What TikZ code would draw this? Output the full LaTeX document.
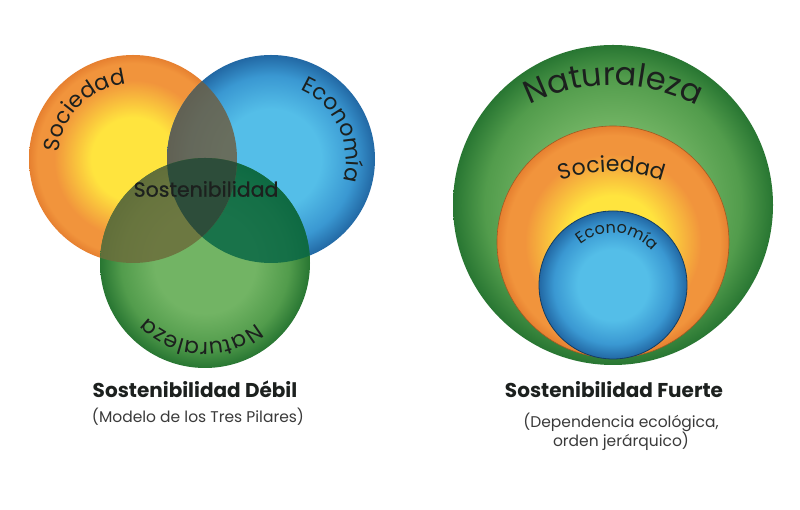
\documentclass[tikz,border=0pt]{standalone}
\usepackage{fontspec}
\usepackage{tikz}
\usetikzlibrary{decorations.text}
\setmainfont{Poppins}
\newfontfamily\semifont{Poppins}[FakeBold=0.7]

\definecolor{socin}{RGB}{255,228,62}
\definecolor{socout}{RGB}{241,148,60}
\definecolor{socrim}{RGB}{230,128,48}
\definecolor{ecoin}{RGB}{84,190,232}
\definecolor{ecoout}{RGB}{58,152,210}
\definecolor{ecorim}{RGB}{34,104,164}
\definecolor{natin}{RGB}{114,180,100}
\definecolor{natout}{RGB}{82,156,76}
\definecolor{natrim}{RGB}{40,118,50}
\definecolor{sehue}{RGB}{108,96,70}
\definecolor{enhue}{RGB}{10,104,70}
\definecolor{snhue}{RGB}{108,110,60}
\definecolor{senhue}{RGB}{40,74,58}
\definecolor{txtdk}{RGB}{28,32,30}
\definecolor{subgray}{RGB}{58,58,58}

\pgfdeclareradialshading{socshade}{\pgfpoint{0bp}{0bp}}{color(0bp)=(socin); color(10bp)=(socin); color(19bp)=(socout); color(23bp)=(socout); color(25bp)=(socrim); color(50bp)=(socrim)}
\pgfdeclareradialshading{ecoshade}{\pgfpoint{0bp}{0bp}}{color(0bp)=(ecoin); color(12bp)=(ecoin); color(20bp)=(ecoout); color(25bp)=(ecorim); color(50bp)=(ecorim)}
\pgfdeclareradialshading{natshade}{\pgfpoint{0bp}{0bp}}{color(0bp)=(natin); color(12bp)=(natin); color(20bp)=(natout); color(25bp)=(natrim); color(50bp)=(natrim)}

\newcommand{\arclbl}{\color{txtdk}\fontsize{22}{22}\selectfont}
\newcommand{\biglbl}{\color{txtdk}\fontsize{32}{32}\selectfont}
\newcommand{\smalllbl}{\color{txtdk}\fontsize{16}{16}\selectfont}

\begin{document}
\begin{tikzpicture}[x=1pt, y=1pt,
    ring/.style={circle, inner sep=0pt},
    arctext/.style={decorate, decoration={text along path, text align=center, text={#1}}}]
        \useasboundingbox[fill=white] (0,0) rectangle (800,510);

        % Weak model
        \node[ring, minimum size=208pt, shading=socshade] (socL) at (133,351) {};
        \node[ring, minimum size=208pt, shading=ecoshade] (ecoL) at (271,351) {};
        \node[ring, minimum size=210pt, shading=natshade] (natL) at (205,247) {};

        % Overlaps
        \begin{scope}
            \clip (socL.center) circle (104);
            \fill[sehue, opacity=0.85] (ecoL.center) circle (104);
        \end{scope}
        \begin{scope}
            \clip (ecoL.center) circle (104);
            \fill[enhue, opacity=0.85] (natL.center) circle (105);
        \end{scope}
        \begin{scope}
            \clip (socL.center) circle (104);
            \fill[snhue, opacity=0.85] (natL.center) circle (105);
        \end{scope}
        \begin{scope}
            \clip (socL.center) circle (104);
            \clip (ecoL.center) circle (104);
            \fill[senhue, opacity=0.9] (natL.center) circle (105);
        \end{scope}

        % Strong model
        \node[ring, minimum size=320pt, shading=natshade] (natR) at (613,305) {};
        \node[ring, minimum size=232pt, shading=socshade, draw=socrim!70!black, line width=0.6pt] (socR) at (613,268) {};
        \node[ring, minimum size=148pt, shading=ecoshade, draw=ecorim!60!black, line width=0.8pt] (ecoR) at (613,225) {};

        % Labels
        \path[arctext={|\arclbl|Sociedad}] (socL.center) ++(180:75) arc (180:90:75);
        \path[arctext={|\arclbl|Economía}] (ecoL.center) ++(70:75) arc (70:-20:75);
        \path[arctext={|\arclbl|Naturaleza}] (natL.center) ++(-48:79) arc (-48:-138:79);
        \node[font=\semifont\fontsize{20.5}{20.5}\selectfont, text=txtdk] (core) at (206,321) {Sostenibilidad};

        \path[arctext={|\biglbl|Naturaleza}] (612,242) ++(120:183) arc (120:59:183);
        \path[arctext={|\arclbl|Sociedad}] (612,182) ++(122:156) arc (122:58:156);
        \path[arctext={|\smalllbl|Economía}] (ecoR.center) ++(140:52) arc (140:30:52);

        % Captions
        \node[anchor=base, font=\bfseries\fontsize{20}{20}\selectfont, text=txtdk] (titleL) at (195,112) {Sostenibilidad Débil};
        \node[anchor=base, font=\fontsize{15.5}{15.5}\selectfont, text=subgray] (subL) at (198,87) {(Modelo de los Tres Pilares)};
        \node[anchor=base, font=\bfseries\fontsize{20}{20}\selectfont, text=txtdk] (titleR) at (614,112) {Sostenibilidad Fuerte};
        \node[anchor=north, align=center, font=\fontsize{15.5}{17}\selectfont, text=subgray] (subR) at (621,101) {(Dependencia ecológica,\\orden jerárquico)};

    \end{tikzpicture}
\end{document}
